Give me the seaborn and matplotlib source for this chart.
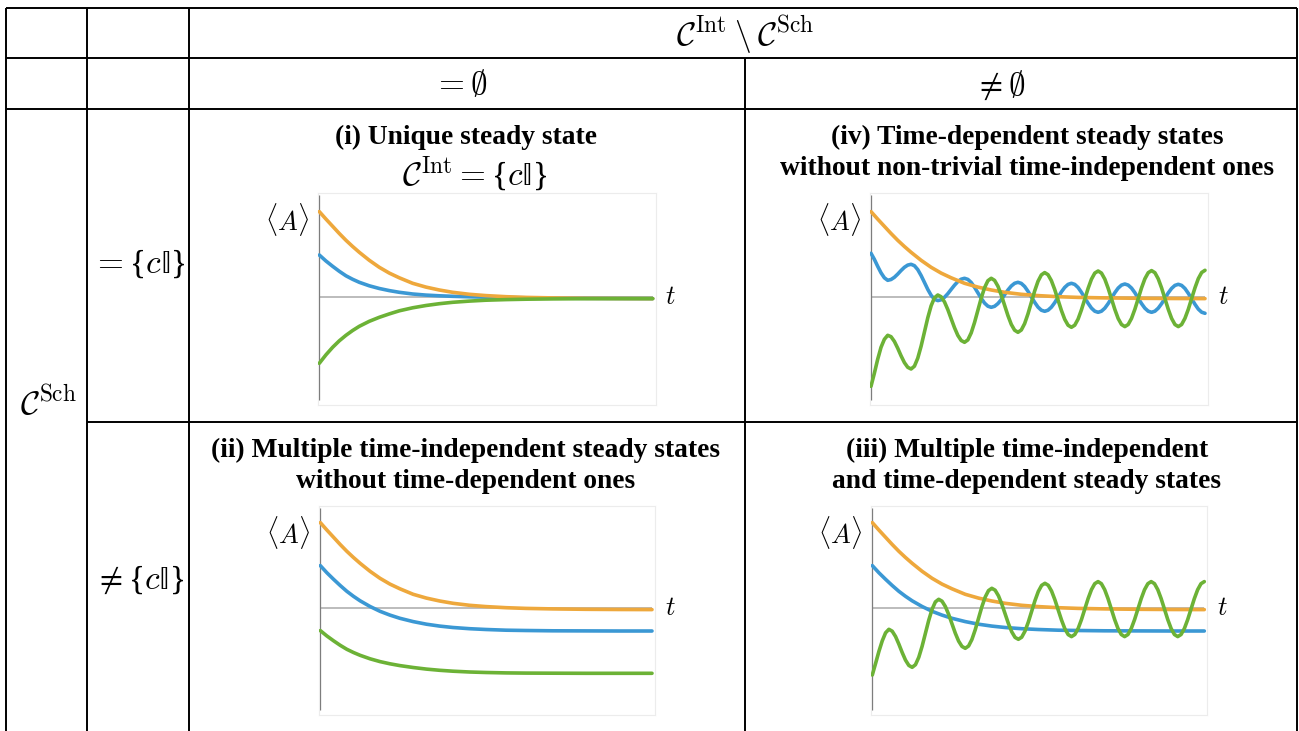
import seaborn as sns
import matplotlib.pyplot as plt
import numpy as np
import pandas as pd

# time axis (fraction of the plotted window)
t_decay = [0, 0.02, 0.04, 0.06, 0.08, 0.10, 0.12, 0.15, 0.18, 0.21, 0.24, 0.28,
           0.32, 0.36, 0.40, 0.45, 0.50, 0.56, 0.62, 0.70, 0.80, 0.90, 1.0]
t_fine = np.round(np.arange(0, 1.0001, 0.01), 2)

# <A>(t), in pixels above the t-axis
orange_decay = [85.7, 78.2, 71, 63.8, 57, 50.8, 45, 37, 30, 24.2, 19.5, 14, 10.2,
                7.3, 5, 3.0, 1.7, 0.6, -0.1, -0.6, -1.0, -1.2, -1.3]
blue_i = [42.3, 36.3, 31, 26, 21.5, 18, 15, 11.5, 8.8, 6.7, 5, 3.3, 2.2,
          1.5, 1, 0.5, 0.1, -0.2, -0.5, -0.8, -1.0, -1.2, -1.3]
green_i = [-66, -57.5, -50, -43.5, -38, -33.2, -29, -24, -20, -16.6, -13.5, -10.5, -8.2,
           -6.4, -5, -3.8, -2.9, -2.3, -1.9, -1.6, -1.4, -1.3, -1.3]
blue_ii = [42.7, 35.5, 29, 22.8, 17, 12, 7.5, 1.8, -3, -6.8, -10, -13.3, -15.9,
           -17.8, -19.2, -20.4, -21.2, -21.9, -22.2, -22.5, -22.6, -22.7, -22.7]
green_ii = [-22.3, -27.7, -32.5, -37, -41, -44.2, -47, -50.5, -53.3, -55.5, -57.3, -59.2, -60.8,
            -62, -62.9, -63.7, -64.2, -64.6, -64.8, -64.9, -65, -65, -65]

blue_iv = [44, 38, 31, 24.5, 19.5, 17, 17.8, 20, 23.2, 26.8,
           30, 32.2, 33, 31.6, 27.7, 21.8, 14.9, 7.9, 2, -1.9,
           -3.3, -2.5, 0, 3.6, 7.9, 12.1, 15.7, 18.1, 19, 17.9,
           14.8, 10.0, 4.5, -1, -5.8, -8.9, -10, -9, -6.3, -2.3,
           2.5, 7.3, 11.3, 14, 15, 13.9, 10.8, 6, 0.5, -5,
           -9.8, -12.9, -14, -12.9, -9.9, -5.4, 0, 5.4, 9.9, 12.9,
           14, 12.9, 9.8, 5, -0.5, -6, -10.8, -13.9, -15, -13.9,
           -10.9, -6.3, -0.9, 4.6, 9.2, 12.2, 13.3, 12.2, 9.2, 4.6,
           -0.9, -6.3, -10.9, -13.9, -15, -13.9, -10.9, -6.4, -1, 4.4,
           8.9, 11.9, 13, 11.9, 8.8, 4, -1.5, -7, -11.8, -14.9,
           -16]
green_iv = [-89, -76, -62, -50, -42, -38, -39.4, -44.1, -50.9, -58.5,
            -65.3, -70.0, -71.7, -68.9, -60.9, -48.9, -34.7, -20.5, -8.5, -0.5,
            2.3, 0.5, -4.6, -12.3, -21.4, -30.4, -38.1, -43.2, -45, -42.6,
            -35.6, -25.2, -13, -0.8, 9.6, 16.6, 19, 16.9, 11.1, 2.3,
            -8, -18.3, -27.1, -32.9, -35, -32.7, -26.3, -16.6, -5.2, 6.3,
            16, 22.4, 24.7, 22.6, 16.7, 7.8, -2.7, -13.1, -22, -27.9,
            -30, -27.9, -21.8, -12.6, -1.9, 8.9, 18.1, 24.2, 26.3, 24.2,
            18.2, 9.1, -1.5, -12.1, -21.2, -27.2, -29.3, -27.2, -21.1, -12,
            -1.3, 9.4, 18.5, 24.6, 26.7, 24.6, 18.5, 9.4, -1.3, -12,
            -21.1, -27.2, -29.3, -27.2, -21, -12, -1.2, 9.5, 18.7, 24.8,
            27]
green_iii = [-66.7, -55, -43, -32.5, -24.5, -21, -22.9, -28.2, -35.8, -44.2,
             -51.8, -57.1, -59, -56.4, -49, -38, -25, -12, -1, 6.4,
             9, 7.1, 1.8, -6.1, -15.5, -24.9, -32.8, -38.1, -40, -37.7,
             -31.2, -21.5, -10, 1.5, 11.2, 17.7, 20, 18.1, 12.5, 4.3,
             -5.5, -15.3, -23.5, -29.1, -31, -28.9, -22.8, -13.7, -3, 7.7,
             16.8, 22.9, 25, 23, 17.2, 8.5, -1.7, -11.8, -20.5, -26.3,
             -28.3, -26.2, -20.2, -11.3, -0.8, 9.7, 18.6, 24.6, 26.7, 24.6,
             18.6, 9.7, -0.8, -11.3, -20.2, -26.2, -28.3, -26.2, -20.2, -11.3,
             -0.8, 9.7, 18.6, 24.6, 26.7, 24.6, 18.6, 9.7, -0.8, -11.3,
             -20.2, -26.2, -28.3, -26.2, -20.2, -11.3, -0.8, 9.7, 18.6, 24.6,
             26.7]

colors = {"blue": "#3b98d4", "orange": "#eea83c", "green": "#6cb236"}

titles = {
    "i": ["(i) Unique steady state"],
    "iv": ["(iv) Time-dependent steady states", "without non-trivial time-independent ones"],
    "ii": ["(ii) Multiple time-independent steady states", "without time-dependent ones"],
    "iii": ["(iii) Multiple time-independent", "and time-dependent steady states"],
}

panels = {
    "i": {"blue": (t_decay, blue_i), "orange": (t_decay, orange_decay), "green": (t_decay, green_i)},
    "iv": {"blue": (t_fine, blue_iv), "orange": (t_decay, orange_decay), "green": (t_fine, green_iv)},
    "ii": {"blue": (t_decay, blue_ii), "orange": (t_decay, orange_decay), "green": (t_decay, green_ii)},
    "iii": {"blue": (t_decay, blue_ii), "orange": (t_decay, orange_decay), "green": (t_fine, green_iii)},
}

# pixel geometry: box x0, x1, y0, y1, zero line y, x at t=0, x at t=1
geom = {
    "i": (318, 656, 193, 405, 297.3, 319.3, 652.7),
    "iv": (870, 1208, 193, 405, 297.3, 871.0, 1205.0),
    "ii": (319, 655, 506, 715, 608.3, 320.3, 652.0),
    "iii": (871, 1207, 506, 715, 608.3, 872.3, 1204.3),
}

sns.set_style("white")
plt.rcParams["mathtext.fontset"] = "cm"
plt.rcParams["text.color"] = "black"
plt.rcParams["font.family"] = ["Liberation Serif", "DejaVu Serif"]

W, H = 1299, 731
fig = plt.figure(figsize=(W / 100, H / 100), dpi=100)

# table grid drawn in pixel coordinates
bg = fig.add_axes([0, 0, 1, 1])
bg.set_xlim(0, W)
bg.set_ylim(H, 0)
bg.axis("off")
lw = 1.4
bg.hlines([7.5, 58, 108.5], 6, 1297, color="black", lw=lw)
bg.hlines(422, 87, 1297, color="black", lw=lw)
bg.vlines([6, 87, 189, 1297], 7.5, H, color="black", lw=lw)
bg.vlines(745, 58, H, color="black", lw=lw)

# identity set, braces set as text so they keep text height
cI = r"{$c\mathrm{𝕀}$}"
ms = 24
bg.text(745, 35, r"$\mathcal{C}^{\mathrm{Int}}\:\backslash\:\mathcal{C}^{\mathrm{Sch}}$", fontsize=ms, ha="center", va="center")
bg.text(460, 85, r"$=\emptyset$", fontsize=ms, ha="center", va="center")
bg.text(1000, 85, r"$\neq\emptyset$", fontsize=ms, ha="center", va="center")
bg.text(48, 403, r"$\mathcal{C}^{\mathrm{Sch}}$", fontsize=ms, ha="center", va="center")
bg.text(139, 264, r"$=$" + cI, fontsize=ms, ha="center", va="center")
bg.text(139, 580, r"$\neq$" + cI, fontsize=ms, ha="center", va="center")

ts = 19.8
title_pos = {"i": (466, 144), "iv": (1027, 144), "ii": (466, 457), "iii": (1027, 457)}
for key, lines in titles.items():
    cx, by = title_pos[key]
    for k, line in enumerate(lines):
        bg.text(cx, by + 31 * k, line, fontsize=ts, fontweight="bold", ha="center", va="baseline")
bg.text(475, 174, r"$\mathcal{C}^{\mathrm{Int}}=$" + cI, fontsize=ms, ha="center", va="center")

ps = 19
for key, series in panels.items():
    x0, x1, y0, y1, zy, u0, u1 = geom[key]
    ax = fig.add_axes([x0 / W, 1 - y1 / H, (x1 - x0) / W, (y1 - y0) / H])
    frames = []
    for name in ["blue", "orange", "green"]:
        tt, vals = series[name]
        frames.append(pd.DataFrame({"t": tt, "value": vals, "series": name}))
    df = pd.concat(frames, ignore_index=True)
    ax.hlines(0, 0, 1, color="#aaaaaa", lw=1.1, zorder=1)
    ax.vlines(0, zy - (y1 - 5), zy - (y0 + 2), color="#777777", lw=0.9, zorder=1)
    sns.lineplot(data=df, x="t", y="value", hue="series", hue_order=["blue", "orange", "green"],
                 palette=colors, estimator=None, sort=False, legend=False, lw=2.6, ax=ax, zorder=3)
    ax.set_xlim((x0 - u0) / (u1 - u0), (x1 - u0) / (u1 - u0))
    ax.set_ylim(zy - y1, zy - y0)
    ax.set_xticks([])
    ax.set_yticks([])
    ax.set_xlabel("")
    ax.set_ylabel("")
    for sp in ax.spines.values():
        sp.set_color("#ececec")
        sp.set_linewidth(0.8)
    bg.text(x0 - 31, y0 + 26.5, r"$\langle A\rangle$", fontsize=ps, ha="center", va="center")
    bg.text(u1 + 18, zy + 0.5, r"$t$", fontsize=ps, ha="center", va="center")

fig.savefig("out.png", dpi=100)
